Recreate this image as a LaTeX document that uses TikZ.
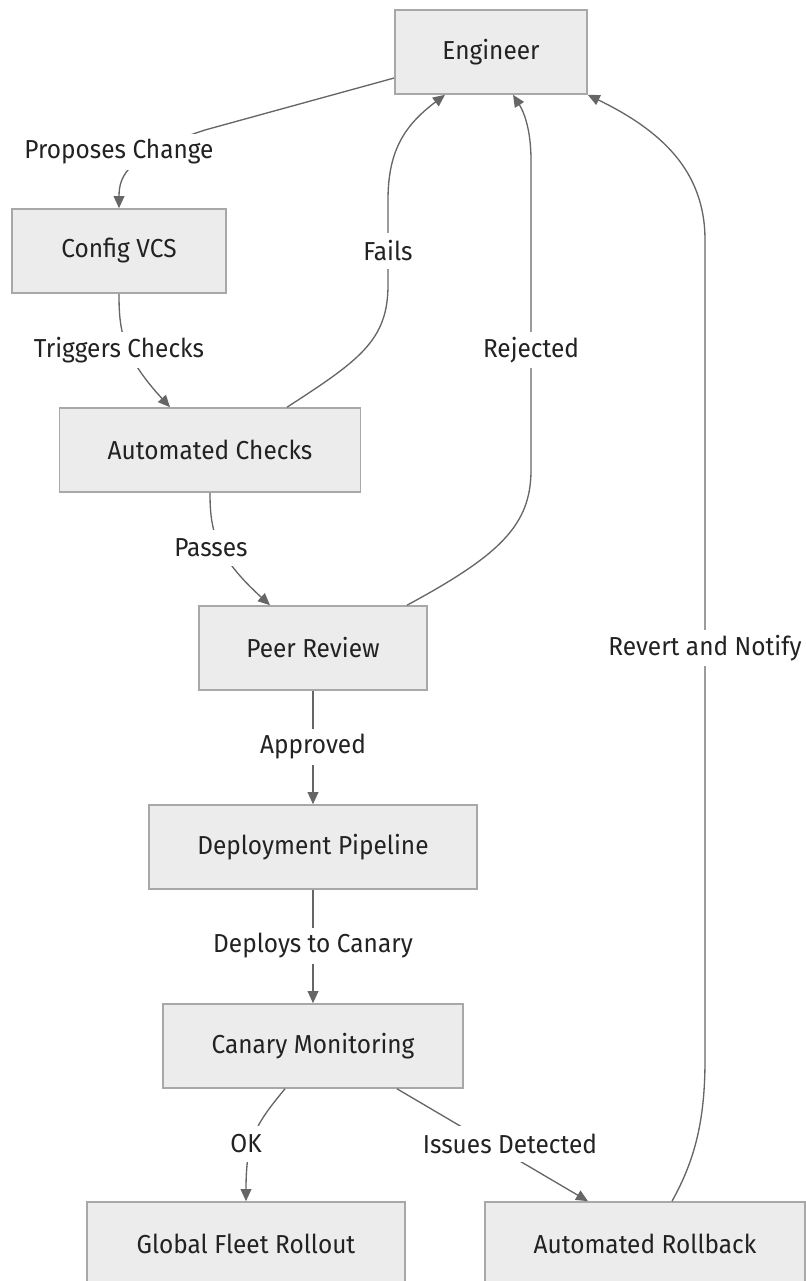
\documentclass[tikz,border=0pt]{standalone}
\usepackage{fontspec}
\setmainfont{Fira Sans}[FakeStretch=0.94]
\usetikzlibrary{arrows.meta,calc}
\definecolor{boxfill}{HTML}{ECECEC}
\definecolor{boxline}{HTML}{A8A8A8}
\definecolor{edgeline}{HTML}{666666}
\definecolor{txt}{HTML}{222222}
\tikzset{
  stagebox/.style={draw=boxline, fill=boxfill, line width=1.2pt, minimum height=63pt,
    inner sep=0pt, text=txt, font=\fontsize{19.5}{23}\selectfont},
  edgelabel/.style={fill=white, inner xsep=1.5pt, inner ysep=0pt, minimum height=27pt,
    text=txt, font=\fontsize{19.5}{23}\selectfont},
  flow/.style={draw=edgeline, line width=1pt, -{Triangle[length=9pt,width=8pt]}},
}
\begin{document}
\begin{tikzpicture}[x=0.75pt,y=-0.75pt]
\useasboundingbox (0,0) rectangle (806,1281);

% stages of the change process
\node[stagebox, minimum width=144pt]   (eng)  at (491,52)   {Engineer};
\node[stagebox, minimum width=160.5pt] (vcs)  at (119,251)  {Config VCS};
\node[stagebox, minimum width=225.75pt](chk)  at (210,450)  {Automated Checks};
\node[stagebox, minimum width=171pt]   (rev)  at (313,648)  {Peer Review};
\node[stagebox, minimum width=246pt]   (dep)  at (313,847)  {Deployment Pipeline};
\node[stagebox, minimum width=225pt]   (can)  at (313,1046) {Canary Monitoring};
\node[stagebox, minimum width=238.5pt] (glob) at (246,1244) {Global Fleet Rollout};
\node[stagebox, minimum width=240pt]   (rb)   at (645,1244) {Automated Rollback};

% transitions
\draw[flow] ($(eng.west)+(0,26)$) -- (205,130) .. controls (128,155) and (119,175) .. (vcs.north);
\draw[flow] (vcs.south) .. controls (119,330) and (122,355) .. ($(chk.north)+(-40,0)$);
\draw[flow] ($(chk.north)+(77,0)$) .. controls (360,360) and (388,340) .. (388,285)
  -- (388,200) .. controls (388,150) and (405,125) .. ($(eng.south)+(-46,0)$);
\draw[flow] (chk.south) .. controls (210,530) and (215,555) .. ($(rev.north)+(-43,0)$);
\draw[flow] ($(rev.north)+(94,0)$) .. controls (500,555) and (531,525) .. (531,470)
  -- (531,160) .. controls (531,130) and (524,112) .. ($(eng.south)+(22,0)$);
\draw[flow] (rev.south) -- (dep.north);
\draw[flow] (dep.south) -- (can.north);
\draw[flow] ($(can.south)+(-28,0)$) .. controls (255,1125) and (246,1140) .. (glob.north);
\draw[flow] ($(can.south)+(84,0)$) -- ($(rb.north)+(-57,0)$);
\draw[flow] ($(rb.north)+(27,0)$) .. controls (695,1160) and (705,1120) .. (705,1060)
  -- (705,240) .. controls (705,170) and (660,130) .. (eng.south east);

% edge labels
\node[edgelabel] (l1)  at (119,152)  {Proposes Change};
\node[edgelabel] (l2)  at (119,350)  {Triggers Checks};
\node[edgelabel] (l3)  at (388,251)  {Fails};
\node[edgelabel] (l4)  at (531,350)  {Rejected};
\node[edgelabel] (l5)  at (211,548)  {Passes};
\node[edgelabel] (l6)  at (705,648)  {Revert and Notify};
\node[edgelabel] (l7)  at (313,747)  {Approved};
\node[edgelabel] (l8)  at (313,946)  {Deploys to Canary};
\node[edgelabel] (l9)  at (246,1144) {OK};
\node[edgelabel] (l10) at (510,1144) {Issues Detected};
\end{tikzpicture}
\end{document}
